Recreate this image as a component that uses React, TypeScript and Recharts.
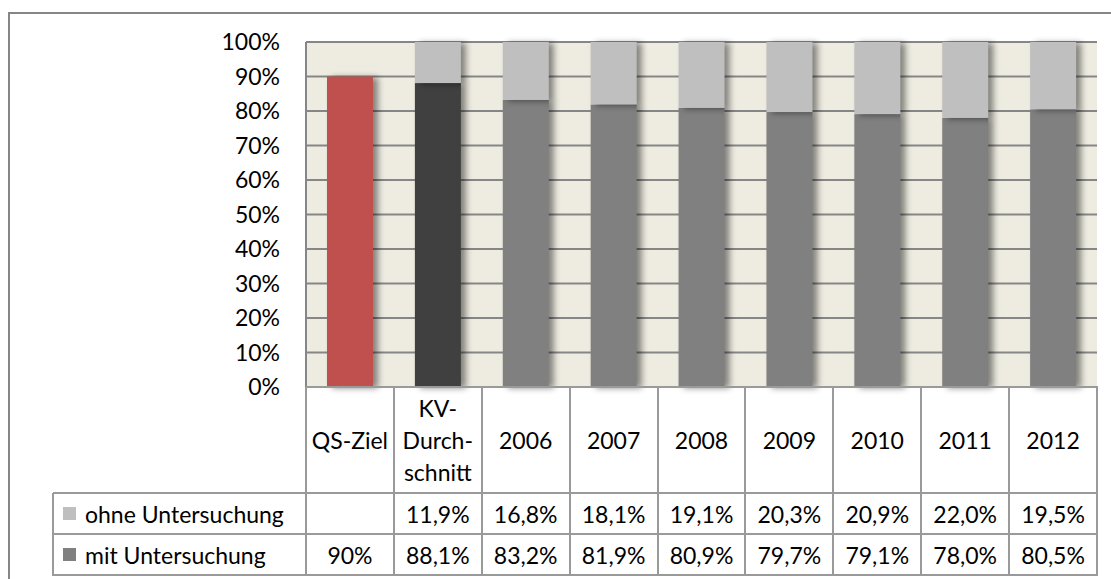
import React from "react";
import { BarChart, Bar, XAxis, YAxis, CartesianGrid, Cell } from "recharts";

// categories and their labels as shown in the data table
const categories = ["QS-Ziel", "KV-Durchschnitt", "2006", "2007", "2008", "2009", "2010", "2011", "2012"];
const categoryLabels = [["QS-Ziel"], ["KV-", "Durch-", "schnitt"], ["2006"], ["2007"], ["2008"], ["2009"], ["2010"], ["2011"], ["2012"]];

// series values (percent)
const mitUntersuchung = [90, 88.1, 83.2, 81.9, 80.9, 79.7, 79.1, 78.0, 80.5];
const ohneUntersuchung = [null, 11.9, 16.8, 18.1, 19.1, 20.3, 20.9, 22.0, 19.5];

const yTicks = [0, 10, 20, 30, 40, 50, 60, 70, 80, 90, 100];

const mitColors = ["#C0504D", "#404040", "#808080", "#808080", "#808080", "#808080", "#808080", "#808080", "#808080"];
const ohneColor = "#BFBFBF";
const mitLegendColor = "#808080";

const data = categories.map((name, i) => ({
    name,
    mit: mitUntersuchung[i],
    ohne: ohneUntersuchung[i],
}));

const fmt = (v: number | null, i: number) => {
    if (v === null) return "";
    if (i === 0) return `${v}%`;
    return v.toFixed(1).replace(".", ",") + "%";
};

// layout
const W = 1111;
const H = 579;
const PLOT_L = 306;
const PLOT_R = 1097;
const PLOT_T = 42;
const PLOT_B = 387;
const TABLE_L = 53;
const ROW1_B = 493;
const ROW2_B = 534;
const ROW3_B = 575;
const COL_W = (PLOT_R - PLOT_L) / categories.length;
const FONT = "Lato, 'Open Sans', sans-serif";
const FS = 23;
const LINE = "#9A9A9A";

const ShadowRect = (props: any) => {
    const { x, y, width, height, fill } = props;
    if (!height || height <= 0) return null;
    return (
        <rect
            x={x}
            y={y}
            width={width}
            height={height}
            fill={fill}
            style={{ filter: "drop-shadow(5px 1px 3px rgba(0,0,0,0.45))" }}
        />
    );
};

const hLine = (key: string, y: number, x1: number, x2: number) => (
    <div key={key} style={{ position: "absolute", left: x1, top: y - 1, width: x2 - x1 + 1, height: 2, background: LINE }} />
);
const vLine = (key: string, x: number, y1: number, y2: number) => (
    <div key={key} style={{ position: "absolute", left: x - 1, top: y1, width: 2, height: y2 - y1 + 1, background: LINE }} />
);

const cellText = (key: string, x: number, y1: number, y2: number, lines: string[]) => (
    <div
        key={key}
        style={{
            position: "absolute",
            left: x,
            top: y1,
            width: COL_W,
            height: y2 - y1,
            display: "flex",
            flexDirection: "column",
            justifyContent: "center",
            alignItems: "center",
            lineHeight: "32px",
            fontSize: FS,
            color: "#000",
        }}
    >
        {lines.map((l, j) => (
            <span key={j}>{l}</span>
        ))}
    </div>
);

const App = () => {
    const lines: React.ReactNode[] = [];
    lines.push(hLine("h0", PLOT_B, PLOT_L, PLOT_R));
    lines.push(hLine("h1", ROW1_B, TABLE_L, PLOT_R));
    lines.push(hLine("h2", ROW2_B, TABLE_L, PLOT_R));
    lines.push(hLine("h3", ROW3_B, TABLE_L, PLOT_R));
    lines.push(vLine("vl", TABLE_L, ROW1_B, ROW3_B));
    for (let k = 0; k <= categories.length; k++) {
        lines.push(vLine("v" + k, PLOT_L + k * COL_W, PLOT_B, ROW3_B));
    }

    const texts: React.ReactNode[] = [];
    categories.forEach((_, i) => {
        const x = PLOT_L + i * COL_W;
        texts.push(cellText("c" + i, x, PLOT_B, ROW1_B, categoryLabels[i]));
        texts.push(cellText("o" + i, x, ROW1_B, ROW2_B, [fmt(ohneUntersuchung[i], i)]));
        texts.push(cellText("m" + i, x, ROW2_B, ROW3_B, [fmt(mitUntersuchung[i], i)]));
    });

    const legendRow = (key: string, y1: number, y2: number, color: string, label: string) => (
        <div
            key={key}
            style={{
                position: "absolute",
                left: TABLE_L + 10,
                top: y1,
                height: y2 - y1,
                display: "flex",
                alignItems: "center",
                fontSize: FS,
                color: "#000",
            }}
        >
            <span style={{ display: "inline-block", width: 13, height: 13, background: color, marginRight: 9 }} />
            <span>{label}</span>
        </div>
    );

    return (
        <div style={{ position: "fixed", left: 0, top: 0, width: W, height: H, background: "#fff", fontFamily: FONT, overflow: "hidden" }}>
            <div
                style={{
                    position: "absolute",
                    left: 8,
                    top: 12,
                    width: W - 8,
                    height: H - 12,
                    borderTop: "2px solid #868686",
                    borderLeft: "2px solid #868686",
                    boxSizing: "border-box",
                }}
            />
            <div style={{ position: "absolute", left: 0, top: 0 }}>
                <BarChart
                    width={W}
                    height={400}
                    data={data}
                    margin={{ top: PLOT_T, right: W - PLOT_R, bottom: 400 - PLOT_B, left: 0 }}
                >
                    <CartesianGrid vertical={false} fill="#EEECE1" stroke="#868686" strokeWidth={2} />
                    <XAxis dataKey="name" hide />
                    <YAxis
                        width={PLOT_L}
                        domain={[0, 100]}
                        ticks={yTicks}
                        tickFormatter={(v) => `${v}%`}
                        axisLine={{ stroke: "#868686", strokeWidth: 2 }}
                        tickLine={false}
                        tickSize={0}
                        tickMargin={26}
                        tick={{ fill: "#000", fontSize: FS, fontFamily: FONT }}
                        interval={0}
                    />
                    <Bar dataKey="mit" stackId="a" barSize={46} shape={ShadowRect} isAnimationActive={false}>
                        {data.map((_, i) => (
                            <Cell key={i} fill={mitColors[i]} />
                        ))}
                    </Bar>
                    <Bar dataKey="ohne" stackId="a" barSize={46} fill={ohneColor} shape={ShadowRect} isAnimationActive={false} />
                </BarChart>
            </div>
            {lines}
            {texts}
            {legendRow("lo", ROW1_B, ROW2_B, ohneColor, "ohne Untersuchung")}
            {legendRow("lm", ROW2_B, ROW3_B, mitLegendColor, "mit Untersuchung")}
        </div>
    );
};

export default App;
